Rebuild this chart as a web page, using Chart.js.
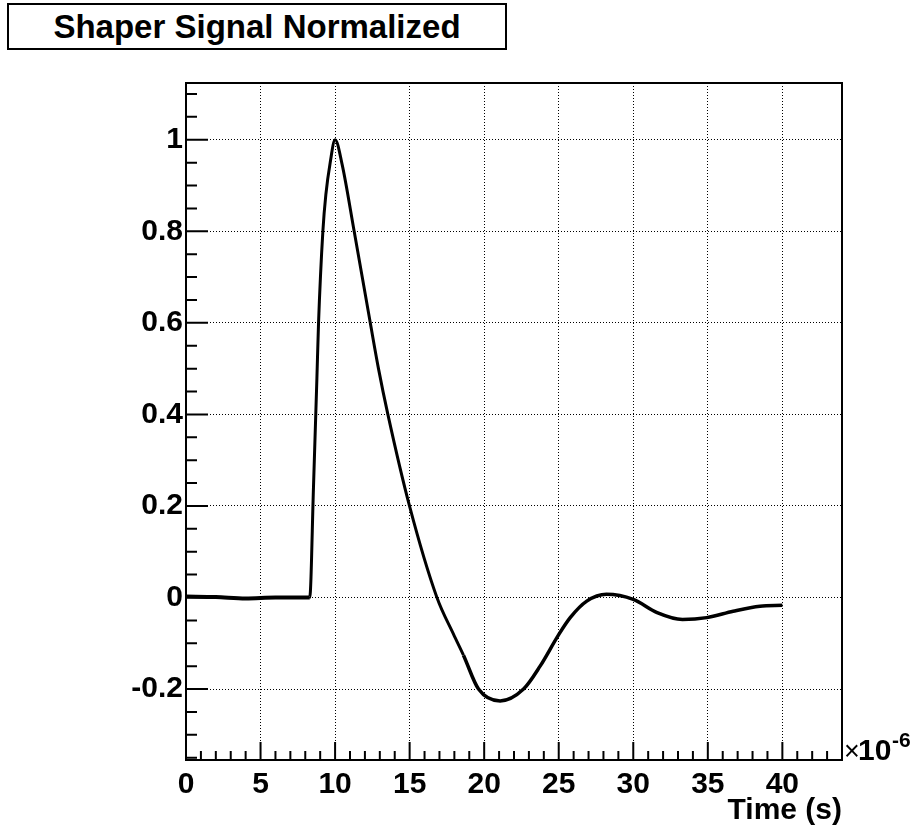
<!DOCTYPE html>
<html>
<head>
<meta charset="utf-8">
<title>Shaper Signal Normalized</title>
<script src="https://cdn.jsdelivr.net/npm/chart.js@4.4.1/dist/chart.umd.min.js"></script>
<style>
  body { margin: 0; background: #fff; }
  #wrap { position: relative; width: 919px; height: 832px; }
  #title {
    position: absolute; left: 7px; top: 3px; width: 500px; height: 47px;
    box-sizing: border-box; border: 2px solid #000; background: #fff;
    font: bold 33px "Liberation Sans", Arial, sans-serif;
    text-align: center; line-height: 43px; color: #000;
  }
</style>
</head>
<body>
<div id="wrap">
  <canvas id="chart" width="919" height="832"></canvas>
  <div id="title">Shaper Signal Normalized</div>
</div>
<script>
// time in microseconds (axis shows x10^-6 s)
const timeUs = [0, 2, 4, 6, 8.3, 8.55, 8.78, 8.89, 9.18, 9.38, 9.67, 10.0, 10.46, 11.28,
    12.36, 12.91, 13.54, 14.99, 16.83, 17.94, 18.61, 19.62, 21.07, 22.64, 23.75, 25.0,
    25.77, 26.88, 28.2, 30.0, 31.6, 33.3, 34.93, 36.7, 38.5, 40.0];
const signal = [0.002, 0.001, -0.002, 0.0, 0.0, 0.24, 0.479, 0.6, 0.8, 0.88, 0.95, 1.0, 0.948, 0.8,
    0.6, 0.5, 0.4, 0.2, 0.0, -0.08, -0.126, -0.2, -0.226, -0.2, -0.15, -0.081,
    -0.044, -0.008, 0.007, -0.004, -0.033, -0.048, -0.044, -0.030, -0.019, -0.017];

const xRange = [0, 44];
const yRange = [-0.355, 1.124];
const xStep = 5, xMinorStep = 1;
const yStep = 0.2, yMinorStep = 0.05;

const font = '"Liberation Sans", Arial, sans-serif';

const points = timeUs.map((t, i) => ({ x: t, y: signal[i] }));

// ROOT style frame with inward ticks and the x10^-6 exponent
const rootAxes = {
    id: 'rootAxes',
    afterDraw(chart) {
        const { ctx, chartArea: a, scales: { x, y } } = chart;
        ctx.save();
        ctx.strokeStyle = '#000';
        ctx.lineWidth = 2;
        ctx.beginPath();
        const nx = Math.round((xRange[1] - xRange[0]) / xMinorStep);
        for (let i = 0; i < nx; i++) {
            const t = xRange[0] + i * xMinorStep;
            const px = x.getPixelForValue(t);
            const len = (i % (xStep / xMinorStep) === 0) ? 18 : 9;
            ctx.moveTo(px, a.bottom);
            ctx.lineTo(px, a.bottom - len);
        }
        const k0 = Math.ceil(yRange[0] / yMinorStep), k1 = Math.floor(yRange[1] / yMinorStep);
        for (let k = k0; k <= k1; k++) {
            const py = y.getPixelForValue(k * yMinorStep);
            const len = (k % 4 === 0) ? 22 : 11;
            ctx.moveTo(a.left, py);
            ctx.lineTo(a.left + len, py);
        }
        ctx.stroke();
        ctx.strokeRect(a.left, a.top, a.right - a.left, a.bottom - a.top);

        ctx.fillStyle = '#000';
        ctx.textBaseline = 'alphabetic';
        ctx.textAlign = 'left';
        ctx.font = '27px ' + font;
        ctx.fillText('\u00d7', a.right + 2, a.bottom);
        ctx.font = 'bold 30px ' + font;
        ctx.fillText('10', a.right + 16, a.bottom);
        ctx.font = 'bold 21px ' + font;
        ctx.fillText('-6', a.right + 50, a.bottom - 13);
        ctx.restore();
    }
};

const fmt = v => {
    const r = Math.round(v * 10) / 10;
    return (r === 0 ? 0 : r).toString();
};

new Chart(document.getElementById('chart'), {
    type: 'scatter',
    data: {
        datasets: [{
            label: 'Shaper Signal Normalized',
            data: points,
            showLine: true,
            borderColor: '#000',
            borderWidth: 3,
            pointRadius: 0,
            cubicInterpolationMode: 'monotone',
            segment: {
                // the noisy stretches read as a thicker trace
                borderWidth: ctx => ctx.p0.parsed.x < 8.3 ? 4 : (ctx.p0.parsed.x >= 18.6 ? 3.5 : 3)
            }
        }]
    },
    options: {
        responsive: false,
        animation: false,
        devicePixelRatio: 1,
        layout: { padding: { left: 0, right: 77, top: 83, bottom: 0 } },
        plugins: {
            legend: { display: false },
            tooltip: { enabled: false }
        },
        scales: {
            x: {
                type: 'linear',
                min: xRange[0],
                max: xRange[1],
                afterFit: s => { s.height = 72; },
                border: { display: false, dash: [1, 2] },
                grid: { color: '#000', lineWidth: 1, drawTicks: false },
                ticks: {
                    stepSize: xStep,
                    includeBounds: false,
                    padding: 7,
                    color: '#000',
                    font: { family: font, size: 30, weight: 'bold' },
                    maxRotation: 0,
                    callback: v => fmt(v)
                },
                title: {
                    display: true,
                    text: 'Time (s)',
                    align: 'end',
                    color: '#000',
                    font: { family: font, size: 30, weight: 'bold' },
                    padding: { top: 0, bottom: 3 }
                }
            },
            y: {
                type: 'linear',
                min: yRange[0],
                max: yRange[1],
                afterFit: s => { s.width = 186; },
                border: { display: false, dash: [1, 2] },
                grid: { color: '#000', lineWidth: 1, drawTicks: false },
                ticks: {
                    stepSize: yStep,
                    includeBounds: false,
                    padding: 3,
                    color: '#000',
                    font: { family: font, size: 30, weight: 'bold' },
                    callback: v => fmt(v)
                }
            }
        }
    },
    plugins: [rootAxes]
});
</script>
</body>
</html>
